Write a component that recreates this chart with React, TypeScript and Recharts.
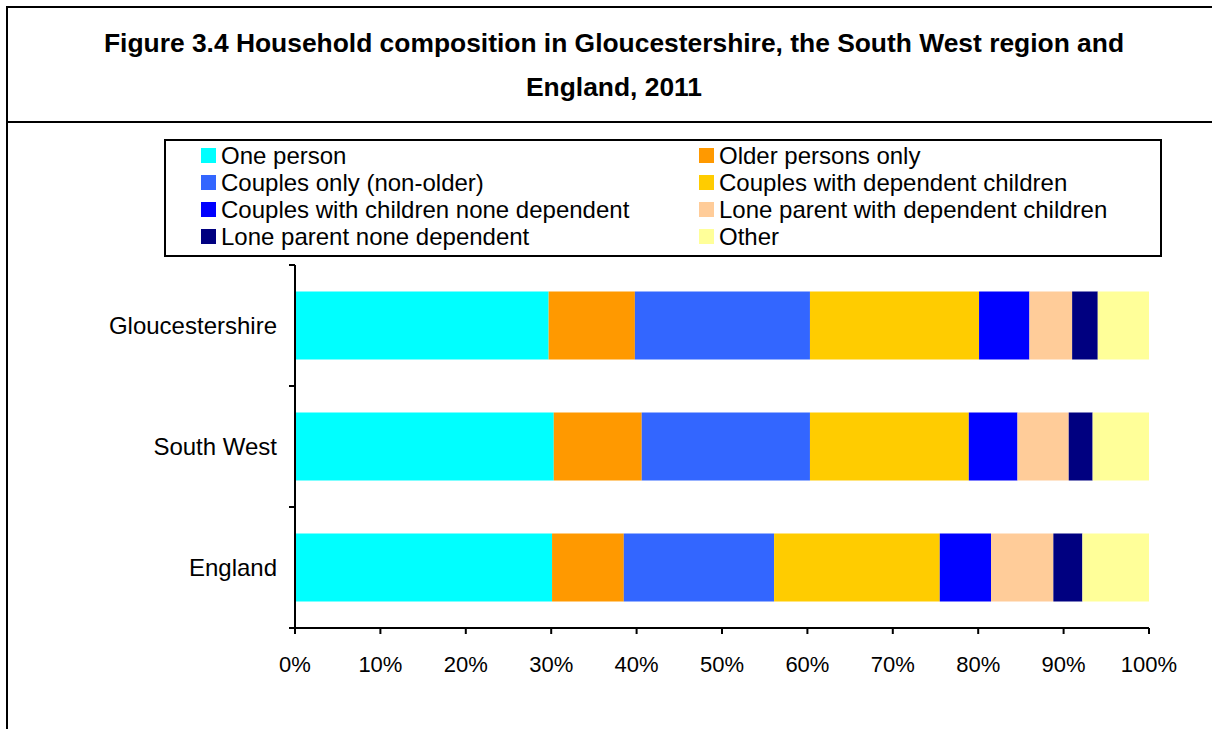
import React from "react";
import { BarChart, Bar, XAxis, YAxis } from "recharts";

const categories = ["Gloucestershire", "South West", "England"];

const seriesNames = [
  "One person",
  "Older persons only",
  "Couples only (non-older)",
  "Couples with dependent children",
  "Couples with children none dependent",
  "Lone parent with dependent children",
  "Lone parent none dependent",
  "Other",
];

const seriesColors = [
  "#00FFFF",
  "#FF9900",
  "#3366FF",
  "#FFCC00",
  "#0000FF",
  "#FFCC99",
  "#000080",
  "#FFFF99",
];

const onePerson = [29.7, 30.3, 30.1];
const olderPersonsOnly = [10.1, 10.3, 8.4];
const couplesOnly = [20.5, 19.7, 17.6];
const couplesDependentChildren = [19.8, 18.6, 19.4];
const couplesChildrenNoneDependent = [5.9, 5.7, 6.0];
const loneParentDependentChildren = [5.0, 6.0, 7.3];
const loneParentNoneDependent = [3.0, 2.8, 3.4];
const other = [6.0, 6.6, 7.8];

const seriesValues = [
  onePerson,
  olderPersonsOnly,
  couplesOnly,
  couplesDependentChildren,
  couplesChildrenNoneDependent,
  loneParentDependentChildren,
  loneParentNoneDependent,
  other,
];

const xTicks = [0, 10, 20, 30, 40, 50, 60, 70, 80, 90, 100];

const titleLines = [
  "Figure 3.4 Household composition in Gloucestershire, the South West region and",
  "England, 2011",
];

const data = categories.map((c, i) => {
  const row: Record<string, string | number> = { name: c };
  seriesNames.forEach((s, j) => {
    row["s" + j] = seriesValues[j][i];
  });
  return row;
});

const FONT = "'Liberation Sans', Arial, sans-serif";

const YTick = (props: any) => {
  const { x, y, payload } = props;
  const half = payload && typeof payload.offset === "number" && payload.offset > 0 ? payload.offset : 60.5;
  const axisX = x + 18;
  return (
    <g>
      <line x1={axisX - 6} x2={axisX} y1={y - half} y2={y - half} stroke="#000" strokeWidth={2} />
      <line x1={axisX - 6} x2={axisX} y1={y + half} y2={y + half} stroke="#000" strokeWidth={2} />
      <text
        x={x}
        y={y}
        textAnchor="end"
        dominantBaseline="central"
        fontSize={24}
        fontFamily={FONT}
        fill="#000"
      >
        {payload.value}
      </text>
    </g>
  );
};

export default function App() {
  return (
    <div
      style={{
        position: "absolute",
        left: 0,
        top: 0,
        width: 1212,
        height: 729,
        background: "#fff",
        fontFamily: FONT,
        overflow: "hidden",
      }}
    >
      {/* frame lines */}
      <div style={{ position: "absolute", left: 6, top: 6, width: 1206, height: 2, background: "#000" }} />
      <div style={{ position: "absolute", left: 6, top: 6, width: 2, height: 723, background: "#000" }} />
      <div style={{ position: "absolute", left: 6, top: 121, width: 1206, height: 2, background: "#000" }} />

      {/* title */}
      {titleLines.map((t, i) => (
        <div
          key={i}
          style={{
            position: "absolute",
            left: 7,
            width: 1214,
            top: 26 + i * 44,
            height: 34,
            lineHeight: "34px",
            textAlign: "center",
            fontWeight: "bold",
            fontSize: 26.4,
            color: "#000",
            whiteSpace: "nowrap",
          }}
        >
          {t}
        </div>
      ))}

      {/* legend */}
      <div
        style={{
          position: "absolute",
          left: 164,
          top: 139,
          width: 998,
          height: 118,
          boxSizing: "border-box",
          border: "2px solid #000",
          paddingLeft: 35,
          paddingTop: 1,
          display: "grid",
          gridTemplateColumns: "498px 460px",
          gridAutoRows: "27px",
        }}
      >
        {seriesNames.map((n, i) => (
          <div
            key={n}
            style={{
              display: "flex",
              alignItems: "center",
              fontSize: 24,
              lineHeight: "27px",
              color: "#000",
              whiteSpace: "nowrap",
            }}
          >
            <span
              style={{
                display: "inline-block",
                width: 15,
                height: 15,
                background: seriesColors[i],
                marginRight: 5,
                flex: "none",
              }}
            />
            {n}
          </div>
        ))}
      </div>

      {/* chart */}
      <div style={{ position: "absolute", left: 0, top: 0 }}>
        <BarChart
          width={1212}
          height={729}
          data={data}
          layout="vertical"
          margin={{ top: 265, right: 63, bottom: 41, left: 95 }}
          barCategoryGap="22%"
        >
          <XAxis
            type="number"
            domain={[0, 100]}
            allowDataOverflow
            ticks={xTicks}
            tickFormatter={(v: number) => `${v}%`}
            axisLine={{ stroke: "#000", strokeWidth: 2 }}
            tickLine={{ stroke: "#000", strokeWidth: 2 }}
            tickSize={6}
            tickMargin={22}
            height={60}
            tick={{ fill: "#000", fontSize: 22, fontFamily: FONT }}
            interval={0}
          />
          <YAxis
            type="category"
            dataKey="name"
            width={200}
            axisLine={{ stroke: "#000", strokeWidth: 2 }}
            tickLine={false}
            tickSize={6}
            tickMargin={12}
            tick={<YTick />}
            interval={0}
          />
          {seriesNames.map((n, i) => (
            <Bar
              key={n}
              dataKey={"s" + i}
              name={n}
              stackId="a"
              fill={seriesColors[i]}
              isAnimationActive={false}
            />
          ))}
        </BarChart>
      </div>
    </div>
  );
}
